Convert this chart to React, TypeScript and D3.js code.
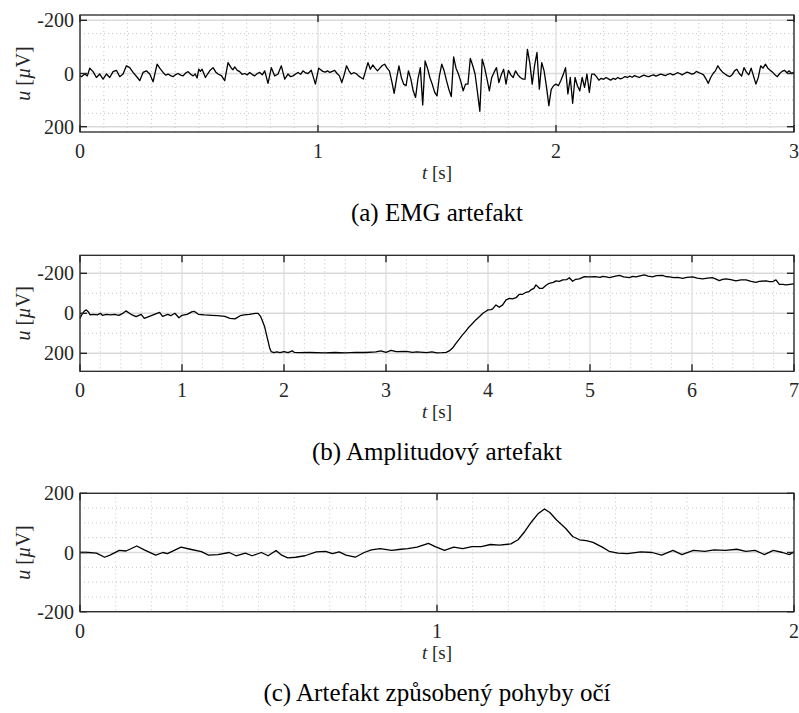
import React from "react";
import * as d3 from "d3";

// EMG artefact recording: [time s, voltage µV]
const emgSamples: [number, number][] = [
  [0, 8], [0.006, 12], [0.02, 2], [0.031, 9], [0.041, -20], [0.055, -7], [0.069, 15], [0.083, 2], [0.097, 21],
  [0.111, 2], [0.125, 15], [0.139, -7], [0.153, -12], [0.167, 12], [0.181, 2], [0.195, -29], [0.209, -22],
  [0.223, -4], [0.241, 15], [0.251, 27], [0.265, -4], [0.279, -10], [0.293, 2], [0.307, 31], [0.324, -35],
  [0.335, -20], [0.349, -4], [0.36, 6], [0.37, 2], [0.381, 8], [0.391, 12], [0.402, 4], [0.412, 0], [0.423, 6],
  [0.433, 9], [0.444, -2], [0.454, -7], [0.465, 3], [0.475, 9], [0.484, 2], [0.492, 17], [0.499, -16], [0.506, -8],
  [0.513, -16], [0.527, 15], [0.536, 2], [0.545, -10], [0.559, -22], [0.57, -6], [0.58, 2], [0.594, 8], [0.608, 27],
  [0.622, -41], [0.636, -20], [0.643, -14], [0.65, -25], [0.661, -12], [0.671, -7], [0.681, 3], [0.692, 0],
  [0.703, 5], [0.713, -4], [0.724, 4], [0.734, 9], [0.745, 0], [0.755, -4], [0.766, 5], [0.776, -10], [0.79, 37],
  [0.804, -22], [0.818, 9], [0.832, 2], [0.846, -29], [0.86, 21], [0.874, 2], [0.885, 12], [0.895, 9],
  [0.906, 2], [0.916, -4], [0.927, 3], [0.937, -10], [0.948, -2], [0.958, 0], [0.972, -12], [0.989, 40],
  [1.003, -20], [1.01, -15], [1.02, -8], [1.03, -5], [1.04, -10], [1.05, -4], [1.06, -8], [1.07, -12], [1.08, 0],
  [1.09, 9], [1.1, 34], [1.11, 5], [1.12, -29], [1.13, -10], [1.14, 2], [1.15, -3], [1.16, 0], [1.17, 9],
  [1.18, 15], [1.19, 21], [1.2, -10], [1.21, -41], [1.22, -16], [1.23, -32], [1.24, -20], [1.25, -10],
  [1.26, -20], [1.27, -30], [1.28, -35], [1.29, -20], [1.3, -10], [1.31, 30], [1.32, 75], [1.33, 20],
  [1.34, -29], [1.35, 15], [1.36, 40], [1.37, 46], [1.38, -10], [1.39, 20], [1.4, 65], [1.41, 90], [1.42, 20],
  [1.43, -22], [1.44, 118], [1.45, -47], [1.46, -20], [1.47, 15], [1.48, 40], [1.49, 70], [1.5, 84], [1.51, 10],
  [1.52, -35], [1.53, -10], [1.54, 27], [1.55, 60], [1.56, 87], [1.57, -62], [1.58, -20], [1.59, 2], [1.6, 30],
  [1.61, 65], [1.62, 40], [1.63, 40], [1.64, -57], [1.65, -30], [1.66, 2], [1.67, 70], [1.68, 142], [1.69, -54],
  [1.7, -22], [1.71, 20], [1.72, 65], [1.73, 15], [1.74, -5], [1.75, -22], [1.76, 34], [1.77, 5], [1.78, -16],
  [1.79, 40], [1.8, -12], [1.81, 5], [1.82, 15], [1.83, -10], [1.84, 5], [1.85, 15], [1.86, 21], [1.87, 21],
  [1.88, -91], [1.89, -40], [1.9, 40], [1.91, -30], [1.92, -79], [1.93, 59], [1.94, -41], [1.95, -10],
  [1.96, 50], [1.97, 121], [1.98, 60], [1.99, 46], [2.0, 40], [2.01, 46], [2.02, 27], [2.03, 5], [2.04, -22],
  [2.05, 77], [2.06, 15], [2.07, 112], [2.08, 15], [2.09, 46], [2.1, 65], [2.11, 15], [2.12, 52], [2.13, 2],
  [2.14, 71], [2.15, 2], [2.16, 2], [2.17, 12], [2.18, 25], [2.19, 18], [2.2, 22], [2.21, 15], [2.22, 20],
  [2.23, 25], [2.24, 18], [2.25, 22], [2.26, 15], [2.27, 20], [2.28, 17], [2.29, 12], [2.3, 15], [2.31, 10],
  [2.32, 14], [2.33, 8], [2.34, 12], [2.35, 15], [2.36, 10], [2.37, 6], [2.38, 10], [2.39, 12], [2.4, 8],
  [2.41, 5], [2.42, 10], [2.43, 6], [2.44, 2], [2.45, 5], [2.46, 8], [2.47, 3], [2.48, 0], [2.49, 5], [2.5, 2],
  [2.51, -3], [2.52, 0], [2.53, 5], [2.54, 0], [2.55, -5], [2.56, -2], [2.57, 2], [2.58, 0], [2.59, -8],
  [2.6, -3], [2.61, 0], [2.62, 5], [2.63, 20], [2.64, 37], [2.65, 15], [2.66, 0], [2.67, -10], [2.68, -29],
  [2.69, -15], [2.7, -5], [2.71, 2], [2.72, 8], [2.73, 12], [2.74, 5], [2.75, -10], [2.76, -16], [2.77, 0],
  [2.78, 10], [2.79, -22], [2.8, -5], [2.81, 5], [2.82, -20], [2.83, 10], [2.84, 40], [2.85, 15], [2.86, -29],
  [2.87, -20], [2.88, -35], [2.89, -20], [2.9, -12], [2.91, -5], [2.92, 5], [2.93, 12], [2.94, 0], [2.95, -8],
  [2.96, -12], [2.97, -3], [2.98, -10], [2.99, 0], [3.0, -5],
];

// Amplitude artefact recording: [time s, voltage µV]
const ampSamples: [number, number][] = [
  [0, 25], [0.02, 5], [0.04, -10], [0.062, -17], [0.08, -8], [0.1, 8], [0.13, 5], [0.17, 8], [0.2, 0], [0.22, 10],
  [0.26, 5], [0.3, 8], [0.34, 5], [0.38, 10], [0.42, 0], [0.45, -12], [0.5, 5], [0.55, 17], [0.6, 5], [0.63, 25],
  [0.68, 15], [0.73, 5], [0.78, -5], [0.81, 15], [0.86, 5], [0.89, 12], [0.93, 0], [0.97, 22], [1.0, 10],
  [1.05, 5], [1.1, -8], [1.12, -10], [1.16, 5], [1.22, 8], [1.29, 10], [1.35, 12], [1.42, 15], [1.47, 25],
  [1.52, 28], [1.57, 12], [1.61, 8], [1.66, 5], [1.72, 0], [1.745, 0], [1.77, 15], [1.79, 40], [1.81, 67],
  [1.83, 110], [1.845, 142], [1.86, 175], [1.875, 192], [1.9, 197], [1.93, 193], [1.96, 197], [2.0, 192],
  [2.04, 197], [2.08, 188], [2.1, 195], [2.15, 197], [2.25, 196], [2.4, 198], [2.5, 196], [2.6, 198],
  [2.7, 195], [2.8, 196], [2.9, 193], [2.95, 188], [3.0, 195], [3.05, 185], [3.1, 192], [3.2, 190],
  [3.26, 195], [3.3, 193], [3.4, 197], [3.45, 193], [3.5, 198], [3.55, 197], [3.59, 195], [3.62, 188],
  [3.65, 175], [3.686, 150], [3.72, 128], [3.75, 108], [3.78, 90], [3.817, 67], [3.85, 50], [3.88, 33],
  [3.92, 15], [3.95, 0], [3.98, -10], [4.0, -17], [4.03, -18], [4.046, -22], [4.078, -42], [4.11, -30],
  [4.144, -42], [4.177, -67], [4.21, -75], [4.24, -72], [4.275, -78], [4.307, -95], [4.34, -95], [4.373, -105],
  [4.4, -108], [4.42, -117], [4.45, -125], [4.47, -142], [4.504, -125], [4.536, -125], [4.57, -140],
  [4.6, -150], [4.64, -155], [4.667, -162], [4.7, -160], [4.732, -167], [4.77, -168], [4.797, -178],
  [4.83, -160], [4.86, -170], [4.895, -172], [4.945, -183], [4.994, -182], [5.05, -183], [5.1, -180],
  [5.124, -185], [5.16, -182], [5.19, -178], [5.24, -185], [5.288, -190], [5.33, -182], [5.386, -178],
  [5.42, -185], [5.45, -182], [5.5, -188], [5.533, -192], [5.57, -186], [5.614, -182], [5.65, -188],
  [5.712, -190], [5.74, -184], [5.778, -182], [5.82, -178], [5.86, -180], [5.908, -175], [5.95, -180],
  [6.007, -182], [6.05, -176], [6.105, -172], [6.15, -176], [6.2, -178], [6.23, -172], [6.268, -163],
  [6.3, -170], [6.333, -172], [6.38, -168], [6.431, -162], [6.48, -167], [6.53, -167], [6.58, -160],
  [6.627, -155], [6.66, -160], [6.725, -162], [6.76, -158], [6.79, -158], [6.823, -167], [6.856, -145],
  [6.89, -145], [6.921, -142], [6.96, -145], [7.0, -147],
];

// Eye-movement artefact recording: [time s, voltage µV]
const eyeSamples: [number, number][] = [
  [0, 0], [0.023, 0], [0.046, -2], [0.069, -16], [0.084, -9], [0.11, 7], [0.129, 5], [0.159, 22], [0.18, 9],
  [0.212, -9], [0.232, 0], [0.245, -4], [0.283, 18], [0.309, 11], [0.34, 3], [0.36, -9], [0.386, -7],
  [0.418, 0], [0.437, -11], [0.463, -2], [0.482, -11], [0.508, 0], [0.527, -11], [0.549, 7], [0.565, -9],
  [0.582, -18], [0.604, -16], [0.63, -11], [0.662, 2], [0.688, 4], [0.707, -4], [0.726, 2], [0.745, -9],
  [0.771, -16], [0.796, 0], [0.816, 9], [0.841, 13], [0.873, 7], [0.899, 11], [0.918, 13], [0.944, 18],
  [0.976, 31], [0.995, 20], [1.021, 7], [1.047, 18], [1.072, 13], [1.098, 20], [1.124, 20], [1.15, 27],
  [1.175, 25], [1.207, 29], [1.227, 43], [1.246, 71], [1.265, 104], [1.284, 132], [1.301, 147], [1.316, 135],
  [1.335, 110], [1.36, 82], [1.38, 54], [1.399, 43], [1.418, 40], [1.437, 34], [1.463, 18], [1.482, 4],
  [1.507, -2], [1.533, -4], [1.571, 2], [1.603, 0], [1.629, -9], [1.661, 7], [1.686, -7], [1.718, 7],
  [1.75, 4], [1.776, 9], [1.808, 7], [1.84, 11], [1.865, 4], [1.891, 7], [1.917, -7], [1.942, 7], [1.968, 0],
  [1.987, -7], [2.0, 2],
];

const emgXTicks = [0, 1, 2, 3];
const emgYTicks = [-200, 0, 200];
const ampXTicks = [0, 1, 2, 3, 4, 5, 6, 7];
const ampYTicks = [-200, 0, 200];
const eyeXTicks = [0, 1, 2];
const eyeYTicks = [-200, 0, 200];

const captions = ["(a) EMG artefakt", "(b) Amplitudový artefakt", "(c) Artefakt způsobený pohyby očí"];

const FONT = "'Liberation Serif', 'Times New Roman', serif";
const INK = "#262626";

type PanelSpec = {
  top: number;
  bottom: number;
  xDomain: [number, number];
  yDomain: [number, number];
  yDown: boolean; // true when the first domain value sits at the top
  xTicks: number[];
  yTicks: number[];
  xMinor: number;
  yMinor: number;
  data: [number, number][];
  caption: string;
};

const LEFT = 80;
const RIGHT = 794;

function Panel({ spec }: { spec: PanelSpec }) {
  const { top, bottom, xDomain, yDomain, yDown, xTicks, yTicks, xMinor, yMinor, data, caption } = spec;
  const x = d3.scaleLinear().domain(xDomain).range([LEFT, RIGHT]);
  const y = d3.scaleLinear().domain(yDomain).range(yDown ? [top, bottom] : [bottom, top]);
  const line = d3
    .line<[number, number]>()
    .x((d) => x(d[0]))
    .y((d) => y(d[1]));

  const yLo = Math.min(...yDomain);
  const yHi = Math.max(...yDomain);
  const xMinorVals = d3
    .range(Math.round((xDomain[1] - xDomain[0]) / xMinor) + 1)
    .map((i) => xDomain[0] + i * xMinor)
    .filter((v) => !xTicks.some((t) => Math.abs(t - v) < 1e-6));
  const yMinorVals = d3
    .range(Math.ceil(yLo / yMinor), Math.floor(yHi / yMinor) + 1)
    .map((i) => i * yMinor)
    .filter((v) => !yTicks.some((t) => Math.abs(t - v) < 1e-6));

  const tick = 7;
  const midX = (LEFT + RIGHT) / 2;
  const midY = (top + bottom) / 2;

  return (
    <g>
      {/* minor grid */}
      {xMinorVals.map((v) => (
        <line key={"xm" + v} x1={x(v)} x2={x(v)} y1={top} y2={bottom} stroke="#b8b8b8" strokeWidth={0.8} strokeDasharray="1 3" />
      ))}
      {yMinorVals.map((v) => (
        <line key={"ym" + v} x1={LEFT} x2={RIGHT} y1={y(v)} y2={y(v)} stroke="#b8b8b8" strokeWidth={0.8} strokeDasharray="1 3" />
      ))}
      {/* major grid */}
      {xTicks.map((v) => (
        <line key={"xg" + v} x1={x(v)} x2={x(v)} y1={top} y2={bottom} stroke="#dadada" strokeWidth={1.2} />
      ))}
      {yTicks.map((v) => (
        <line key={"yg" + v} x1={LEFT} x2={RIGHT} y1={y(v)} y2={y(v)} stroke="#dadada" strokeWidth={1.5} />
      ))}
      {/* signal */}
      <path d={line(data) ?? ""} fill="none" stroke="#000" strokeWidth={1.3} strokeLinejoin="round" />
      {/* frame */}
      <rect x={LEFT} y={top} width={RIGHT - LEFT} height={bottom - top} fill="none" stroke={INK} strokeWidth={1.3} />
      {/* inward tick marks on all sides */}
      {xTicks.map((v) => (
        <g key={"xt" + v}>
          <line x1={x(v)} x2={x(v)} y1={top} y2={top + tick} stroke={INK} strokeWidth={1.4} />
          <line x1={x(v)} x2={x(v)} y1={bottom} y2={bottom - tick} stroke={INK} strokeWidth={1.4} />
        </g>
      ))}
      {yTicks.map((v) => (
        <g key={"yt" + v}>
          <line x1={LEFT} x2={LEFT + tick} y1={y(v)} y2={y(v)} stroke={INK} strokeWidth={1.4} />
          <line x1={RIGHT} x2={RIGHT - tick} y1={y(v)} y2={y(v)} stroke={INK} strokeWidth={1.4} />
        </g>
      ))}
      {/* tick labels */}
      {xTicks.map((v) => (
        <text key={"xl" + v} x={x(v)} y={bottom + 26} textAnchor="middle" fontFamily={FONT} fontSize={20} fill={INK}>
          {v}
        </text>
      ))}
      {yTicks.map((v) => (
        <text key={"yl" + v} x={LEFT - 6} y={y(v)} dy="0.35em" textAnchor="end" fontFamily={FONT} fontSize={20} fill={INK}>
          {v}
        </text>
      ))}
      {/* axis labels */}
      <text x={midX} y={bottom + 47} textAnchor="middle" fontFamily={FONT} fontSize={19} fill={INK}>
        <tspan fontStyle="italic">t</tspan>
        <tspan> [s]</tspan>
      </text>
      <text
        transform={`translate(${30},${midY}) rotate(-90)`}
        textAnchor="middle"
        fontFamily={FONT}
        fontSize={20}
        fill={INK}
      >
        <tspan fontStyle="italic">u</tspan>
        <tspan> [</tspan>
        <tspan fontStyle="italic">µ</tspan>
        <tspan>V]</tspan>
      </text>
      {/* caption */}
      <text x={midX} y={bottom + 89} textAnchor="middle" fontFamily={FONT} fontSize={25} fill="#000">
        {caption}
      </text>
    </g>
  );
}

export default function App() {
  const panels: PanelSpec[] = [
    {
      top: 15, bottom: 132, xDomain: [0, 3], yDomain: [-220, 220], yDown: true,
      xTicks: emgXTicks, yTicks: emgYTicks, xMinor: 0.1, yMinor: 50, data: emgSamples, caption: captions[0],
    },
    {
      top: 255.3, bottom: 371.3, xDomain: [0, 7], yDomain: [-290, 290], yDown: true,
      xTicks: ampXTicks, yTicks: ampYTicks, xMinor: 0.2, yMinor: 100, data: ampSamples, caption: captions[1],
    },
    {
      top: 493.3, bottom: 611.7, xDomain: [0, 2], yDomain: [-200, 200], yDown: false,
      xTicks: eyeXTicks, yTicks: eyeYTicks, xMinor: 0.1, yMinor: 50, data: eyeSamples, caption: captions[2],
    },
  ];
  return (
    <svg width={799} height={713} style={{ position: "absolute", left: 0, top: 0, background: "#fff" }}>
      <rect width={799} height={713} fill="#fff" />
      {panels.map((p, i) => (
        <Panel key={i} spec={p} />
      ))}
    </svg>
  );
}
